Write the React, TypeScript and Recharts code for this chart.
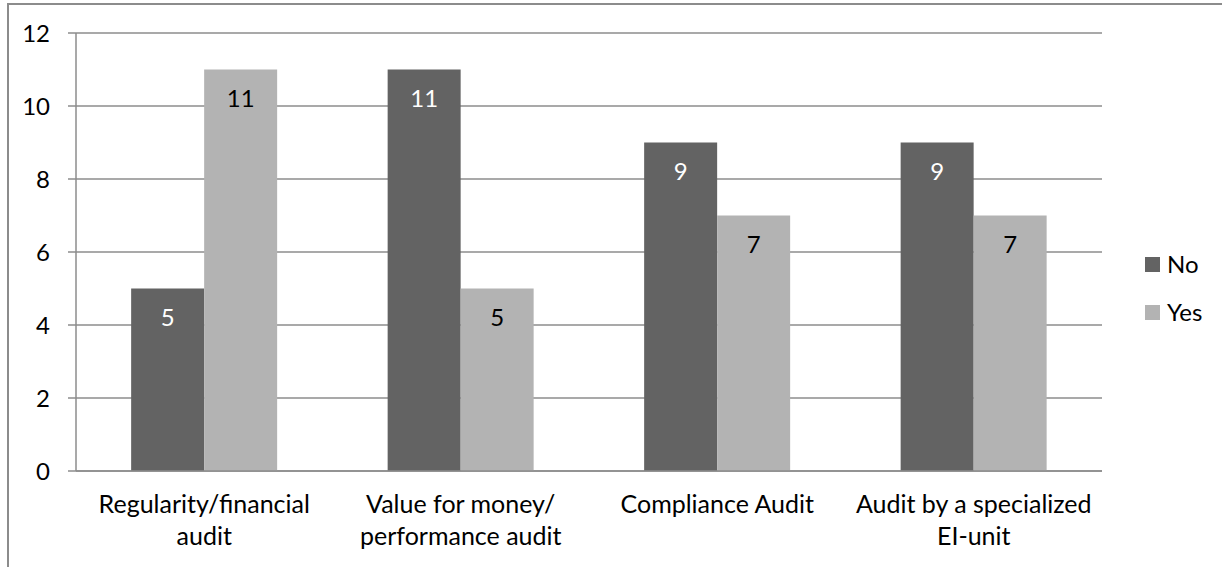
import React from "react";
import { BarChart, Bar, XAxis, YAxis, CartesianGrid, Legend, LabelList } from "recharts";

const categories = [
  "Regularity/financial\naudit",
  "Value for money/\nperformance audit",
  "Compliance Audit",
  "Audit by a specialized\nEI-unit",
];
const noValues = [5, 11, 9, 9];
const yesValues = [11, 5, 7, 7];
const yTicks = [0, 2, 4, 6, 8, 10, 12];
const boundaryTicks = [0, 1, 2, 3, 4];

const data = categories.map((c, i) => ({ name: c, No: noValues[i], Yes: yesValues[i], pos: i + 0.5 }));

const FONT = "Lato, 'Open Sans', sans-serif";
const FS = 24;
const NO_COLOR = "#636363";
const YES_COLOR = "#b3b3b3";
const LINE = "#8c8c8c";

const CatTick = (props: any) => {
  const { x, y, payload } = props;
  const lines = String(payload.value).split("\n");
  return (
    <text x={x} y={y} textAnchor="middle" fontFamily={FONT} fontSize={25} fill="#000">
      {lines.map((l, i) => (
        <tspan key={i} x={x} dy={i === 0 ? 34 : 32}>
          {l}
        </tspan>
      ))}
    </text>
  );
};

const LegendContent = () => (
  <div style={{ fontFamily: FONT, fontSize: FS, color: "#000", lineHeight: "24px" }}>
    {[
      { n: "No", c: NO_COLOR },
      { n: "Yes", c: YES_COLOR },
    ].map((it, i) => (
      <div key={it.n} style={{ display: "flex", alignItems: "center", height: 24, marginBottom: i === 0 ? 24 : 0 }}>
        <div style={{ width: 15, height: 15, background: it.c, marginRight: 7 }} />
        <span>{it.n}</span>
      </div>
    ))}
  </div>
);

export default function App() {
  return (
    <div style={{ position: "absolute", left: 0, top: 0, width: 1222, height: 567, background: "#fff", overflow: "hidden" }}>
      <div
        style={{
          position: "absolute",
          left: 7,
          top: 3,
          width: 1240,
          height: 600,
          border: "2px solid #8c8c8c",
          boxSizing: "border-box",
        }}
      />
      <div style={{ position: "absolute", left: 0, top: 0 }}>
        <BarChart
          width={1222}
          height={567}
          data={data}
          margin={{ top: 33, right: 43, bottom: 0, left: 0 }}
          barCategoryGap="21.5%"
          barGap={0}
        >
          <CartesianGrid vertical={false} stroke={LINE} strokeWidth={1.5} />
          <XAxis
            dataKey="name"
            xAxisId="cat"
            tick={<CatTick />}
            tickLine={false}
            axisLine={{ stroke: LINE, strokeWidth: 1.5 }}
            height={96}
            interval={0}
          />
          <XAxis
            dataKey="pos"
            xAxisId="bnd"
            type="number"
            domain={[0, 4]}
            ticks={boundaryTicks}
            tick={false}
            tickLine={{ stroke: LINE, strokeWidth: 1.5 }}
            tickSize={9}
            axisLine={false}
            height={0}
          />
          <YAxis
            domain={[0, 12]}
            ticks={yTicks}
            width={76}
            tickSize={8}
            tickMargin={18}
            tickLine={{ stroke: LINE, strokeWidth: 1.5 }}
            axisLine={{ stroke: LINE, strokeWidth: 1.5 }}
            tick={{ fontFamily: FONT, fontSize: FS, fill: "#000" }}
            interval={0}
          />
          <Legend
            layout="vertical"
            align="right"
            verticalAlign="middle"
            content={<LegendContent />}
            wrapperStyle={{ left: 1145, top: 252, width: 77 }}
          />
          <Bar dataKey="No" xAxisId="cat" fill={NO_COLOR} isAnimationActive={false}>
            <LabelList dataKey="No" position="insideTop" offset={20} fill="#fff" fontFamily={FONT} fontSize={FS} />
          </Bar>
          <Bar dataKey="Yes" xAxisId="cat" fill={YES_COLOR} isAnimationActive={false}>
            <LabelList dataKey="Yes" position="insideTop" offset={20} fill="#000" fontFamily={FONT} fontSize={FS} />
          </Bar>
        </BarChart>
      </div>
    </div>
  );
}
